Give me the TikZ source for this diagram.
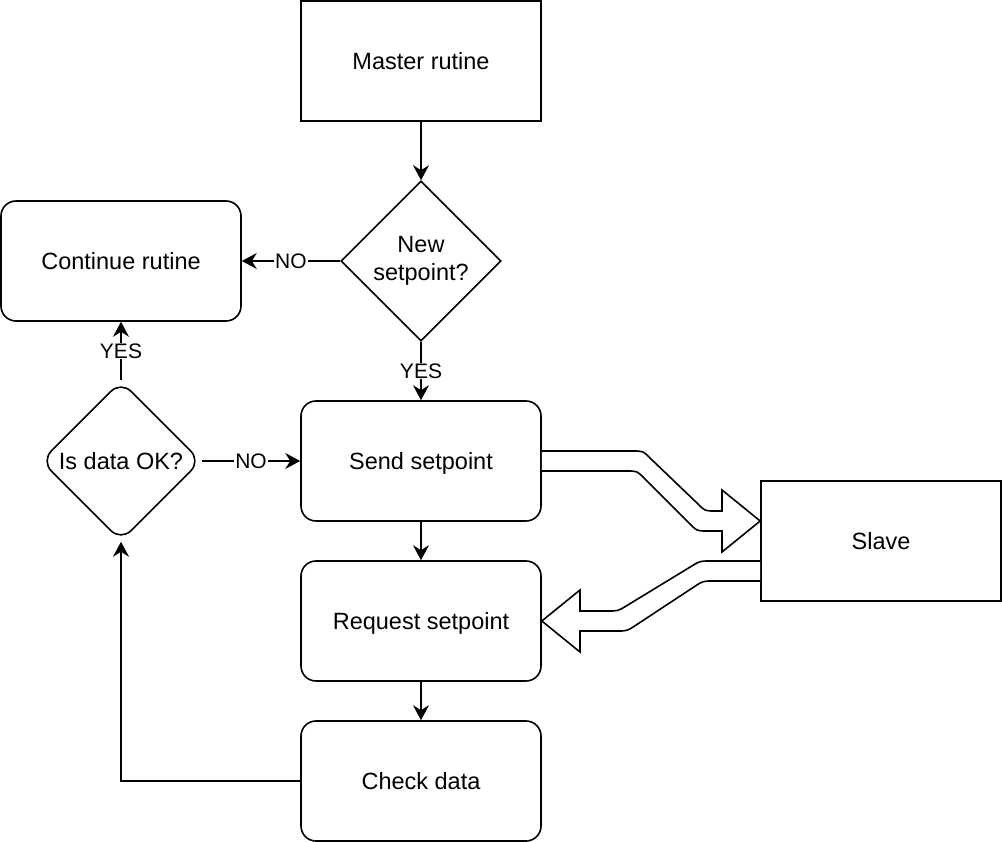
\documentclass[tikz,border=0pt]{standalone}
\usepackage{fontspec}
\setmainfont{Liberation Sans}
\usetikzlibrary{shapes.geometric,arrows.meta,calc}
\newcommand\mainfs{\fontsize{23.5}{28}\selectfont}
\newcommand\labfs{\fontsize{21}{24}\selectfont}
\begin{document}
\begin{tikzpicture}[x=1pt,y=-1pt, line width=1.6pt,
 box/.style={draw, minimum width=240pt, minimum height=120pt, inner sep=0pt, font=\mainfs, text height=17pt, text depth=0pt},
 rbox/.style={box, rounded corners=15pt},
 dia/.style={draw, diamond, shape aspect=1, minimum width=160pt, minimum height=160pt, inner sep=0pt, font=\mainfs, align=center},
 conn/.style={-{Stealth[length=15pt,width=16pt,inset=5pt]}, line width=1.6pt},
 lab/.style={fill=white, inner sep=1pt, font=\labfs},
 flex/.style={draw, fill=white, line width=1.6pt, line join=miter}]
\useasboundingbox (0,0) rectangle (1002,842);

\node[box]  (master) at (421,61)  {Master rutine};
\node[dia]  (newsp)  at (421,261) {New\\setpoint?};
\node[rbox] (cont)   at (121,261) {Continue rutine};
\node[rbox] (send)   at (421,461) {Send setpoint};
\node[dia, rounded corners=14pt] (isok) at (121,461) {Is data OK?};
\node[rbox] (req)    at (421,621) {Request setpoint};
\node[rbox] (check)  at (421,781) {Check data};
\node[box]  (slave)  at (881,541) {Slave};

\draw[conn] (master) -- (newsp);
\draw[conn] (newsp) -- node[lab]{YES} (send);
\draw[conn] (newsp) -- node[lab]{NO} (cont);
\draw[conn] (send) -- (req);
\draw[conn] (req) -- (check);
\draw[conn] (check.west) -| (isok.south);
\draw[conn] (isok) -- node[lab]{YES} (cont);
\draw[conn] (isok) -- node[lab]{NO} (send);

% flexible arrow Send -> Slave
\path[flex] ($(send.east)+(0,-10)$) -- (633,451) .. controls (643,451) .. (650,458)
  -- (698,504) .. controls (705,511) .. (715,511) -- (722,511) -- (722,490)
  -- (slave.west |- 0,521) -- (722,552) -- (722,531) -- (707,531)
  .. controls (697,531) .. (690,524) -- (644,478) .. controls (637,471) .. (627,471)
  -- ($(send.east)+(0,10)$);

% flexible arrow Slave -> Request
\path[flex] ($(slave.west)+(0,20)$) -- (710,561) .. controls (700,561) .. (691.5,566.2)
  -- (626.5,605.8) .. controls (618,611) .. (608,611) -- (580,611) -- (580,590)
  -- (req.east) -- (580,652) -- (580,631) -- (617,631)
  .. controls (627,631) .. (635.4,625.5) -- (694.6,586.5) .. controls (703,581) .. (713,581)
  -- ($(slave.west)+(0,40)$);
\end{tikzpicture}
\end{document}
